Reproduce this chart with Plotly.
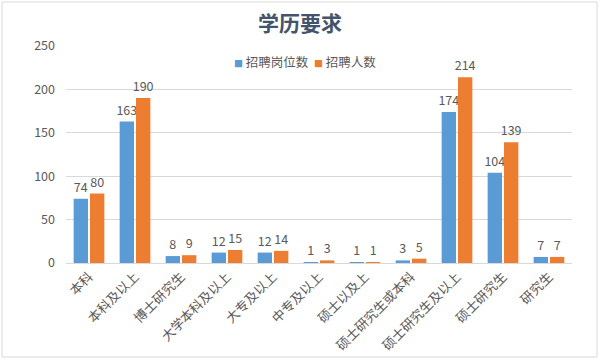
import plotly.graph_objects as go

categories = ["本科", "本科及以上", "博士研究生", "大学本科及以上", "大专及以上", "中专及以上",
              "硕士以及上", "硕士研究生或本科", "硕士研究生及以上", "硕士研究生", "研究生"]
positions = [74, 163, 8, 12, 12, 1, 1, 3, 174, 104, 7]
people = [80, 190, 9, 15, 14, 3, 1, 5, 214, 139, 7]
series_names = ["招聘岗位数", "招聘人数"]
colors = ["#5B9BD5", "#ED7D31"]

FONT = "Noto Sans CJK SC"
W, H = 600, 360
L, R, T, B = 66, 28, 46, 97
pw, ph = W - L - R, H - T - B

fig = go.Figure()
for name, vals, col in zip(series_names, [positions, people], colors):
    fig.add_trace(go.Bar(x=categories, y=vals, name=name,
                         marker=dict(color=col, line=dict(width=0)),
                         text=vals, textposition="outside", cliponaxis=False, constraintext="none",
                         textfont=dict(size=12.5, color="#595959", family=FONT)))

legend_text = "  ".join(
    f"<span style='color:{c};font-size:9px'>■</span> {n}" for n, c in zip(series_names, colors))

fig.update_layout(
    width=W, height=H,
    margin=dict(l=L, r=R, t=T, b=B, autoexpand=False),
    paper_bgcolor="white", plot_bgcolor="white",
    font=dict(family=FONT, color="#595959", size=12),
    title=dict(text="<b>学历要求</b>", x=0.5, xanchor="center", y=1 - 24 / H, yanchor="middle",
               font=dict(size=21, color="#44546A", family=FONT)),
    barmode="group", bargap=0.29, bargroupgap=0.12,
    showlegend=False,
    annotations=[dict(text=legend_text, xref="paper", yref="paper",
                      x=(305 - L) / pw, y=(H - B - 61) / ph, xanchor="center", yanchor="middle",
                      showarrow=False, font=dict(size=12.5, color="#595959", family=FONT))],
)
fig.update_yaxes(range=[0, 250], dtick=50, gridcolor="#D9D9D9", gridwidth=1, zeroline=False,
                 showline=False, ticks="", tickfont=dict(size=12.5, color="#595959"),
                 ticklabelstandoff=10, automargin=False)
fig.update_xaxes(tickangle=-45, showline=True, linecolor="#D9D9D9", linewidth=1, ticks="",
                 tickfont=dict(size=13, color="#595959"), automargin=False)

# outer chart frame
fig.add_shape(type="rect", xref="paper", yref="paper",
              x0=(2 - L) / pw, x1=(597 - L) / pw,
              y0=(H - B - 357) / ph, y1=(H - B - 2) / ph,
              line=dict(color="#D9D9D9", width=1), fillcolor="rgba(0,0,0,0)", layer="below")

fig.write_html("out.html", config={"displayModeBar": False},
               post_script="document.body.style.margin='0';document.body.style.overflow='hidden';")
